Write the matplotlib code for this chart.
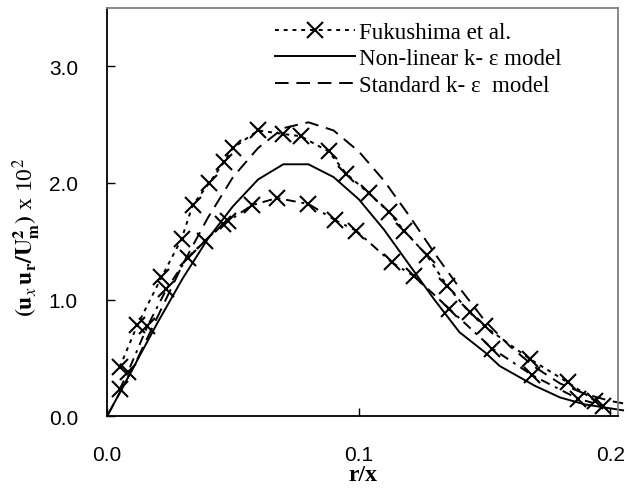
import matplotlib
matplotlib.use("Agg")
import matplotlib.pyplot as plt

plt.rcParams["mathtext.fontset"] = "stix"

# Fukushima et al. (upper set)
exp1_x = [0.005, 0.012, 0.0216, 0.0296, 0.034, 0.0406, 0.0465, 0.050, 0.060, 0.070,
          0.077, 0.088, 0.095, 0.104, 0.112, 0.118, 0.127, 0.135, 0.144, 0.150,
          0.168, 0.183, 0.194]
exp1_y = [0.42, 0.78, 1.19, 1.52, 1.81, 2.00, 2.18, 2.30, 2.45, 2.42,
          2.40, 2.27, 2.08, 1.91, 1.75, 1.59, 1.38, 1.12, 0.89, 0.77,
          0.49, 0.29, 0.13]

# Fukushima et al. (lower set)
exp2_x = [0.005, 0.0083, 0.016, 0.0236, 0.032, 0.0387, 0.046, 0.048, 0.0576, 0.0675,
          0.080, 0.0907, 0.099, 0.113, 0.122, 0.136, 0.153, 0.169, 0.187, 0.197]
exp2_y = [0.23, 0.38, 0.77, 1.09, 1.36, 1.50, 1.65, 1.67, 1.81, 1.87,
          1.82, 1.68, 1.59, 1.32, 1.20, 0.92, 0.58, 0.35, 0.15, 0.09]

# Non-linear k-e model
nl_x = [0.0, 0.01, 0.02, 0.03, 0.04, 0.05, 0.06, 0.07, 0.08, 0.09, 0.10,
        0.11, 0.12, 0.13, 0.14, 0.15, 0.156, 0.17, 0.18, 0.19, 0.205]
nl_y = [0.0, 0.40, 0.80, 1.18, 1.52, 1.80, 2.03, 2.16, 2.16, 2.05, 1.86,
        1.60, 1.30, 1.00, 0.72, 0.55, 0.43, 0.26, 0.16, 0.10, 0.05]

# Standard k-e model
std_x = [0.0, 0.01, 0.02, 0.03, 0.04, 0.05, 0.06, 0.07, 0.08, 0.09, 0.10, 0.11,
         0.12, 0.13, 0.14, 0.15, 0.16, 0.17, 0.18, 0.19, 0.20, 0.205]
std_y = [0.0, 0.40, 0.85, 1.30, 1.70, 2.05, 2.30, 2.47, 2.52, 2.45, 2.27, 2.02,
         1.72, 1.40, 1.10, 0.82, 0.60, 0.42, 0.28, 0.19, 0.13, 0.11]

x_ticks = [0.0, 0.1, 0.2]
y_ticks = [0.0, 1.0, 2.0, 3.0]

serif = ["Liberation Serif", "DejaVu Serif"]
sans = ["Liberation Sans", "DejaVu Sans"]

fig = plt.figure(figsize=(6.3, 5.02), dpi=100)
ax = fig.add_axes([0.170, 0.169, 0.811, 0.813])

ax.plot(exp1_x, exp1_y, color="black", linestyle=(0, (2, 2.5)), linewidth=1.4,
        marker="x", markersize=11, markeredgewidth=1.5, label="Fukushima et al.")
ax.plot(exp2_x, exp2_y, color="black", linestyle=(0, (5, 3, 1.5, 3)), linewidth=1.4,
        marker="x", markersize=11, markeredgewidth=1.5)
ax.plot(nl_x, nl_y, color="black", linestyle="-", linewidth=1.4, clip_on=False,
        label="Non-linear k- ε model")
ax.plot(std_x, std_y, color="black", linestyle=(0, (7, 4)), linewidth=1.4, clip_on=False,
        label="Standard k- ε  model")

ax.set_xlim(0, 0.203)
ax.set_ylim(0, 3.5)
ax.set_xticks(x_ticks)
ax.set_xticklabels(["%.1f" % v for v in x_ticks], family=sans, fontsize=15)
ax.set_yticks(y_ticks)
ax.set_yticklabels(["%.1f" % v for v in y_ticks], family=sans, fontsize=15)
ax.tick_params(direction="in", length=6, width=1, pad=21)

for side in ["left", "bottom"]:
    ax.spines[side].set_color("black")
    ax.spines[side].set_linewidth(1.3)
for side in ["top", "right"]:
    ax.spines[side].set_color("#808080")
    ax.spines[side].set_linewidth(1.3)

ax.set_xlabel("r/x", family=serif, fontsize=17, fontweight="bold", labelpad=0)
ax.set_ylabel(r"$\mathbf{(u}_{x}\,\mathbf{u}_{\mathbf{r}}\mathbf{/U}_{\mathbf{m}}^{\mathbf{2}}\mathbf{)}$ x 10$^2$",
              family=serif, fontsize=17)
ax.yaxis.set_label_coords(-0.125, 0.44)

leg = ax.legend(loc="upper left", bbox_to_anchor=(0.329, 0.965), frameon=False,
                prop={"family": serif, "size": 16.5}, handlelength=3.5,
                handletextpad=0.15, labelspacing=0.22, borderpad=0,
                borderaxespad=0)

fig.savefig("out.png", dpi=100)
